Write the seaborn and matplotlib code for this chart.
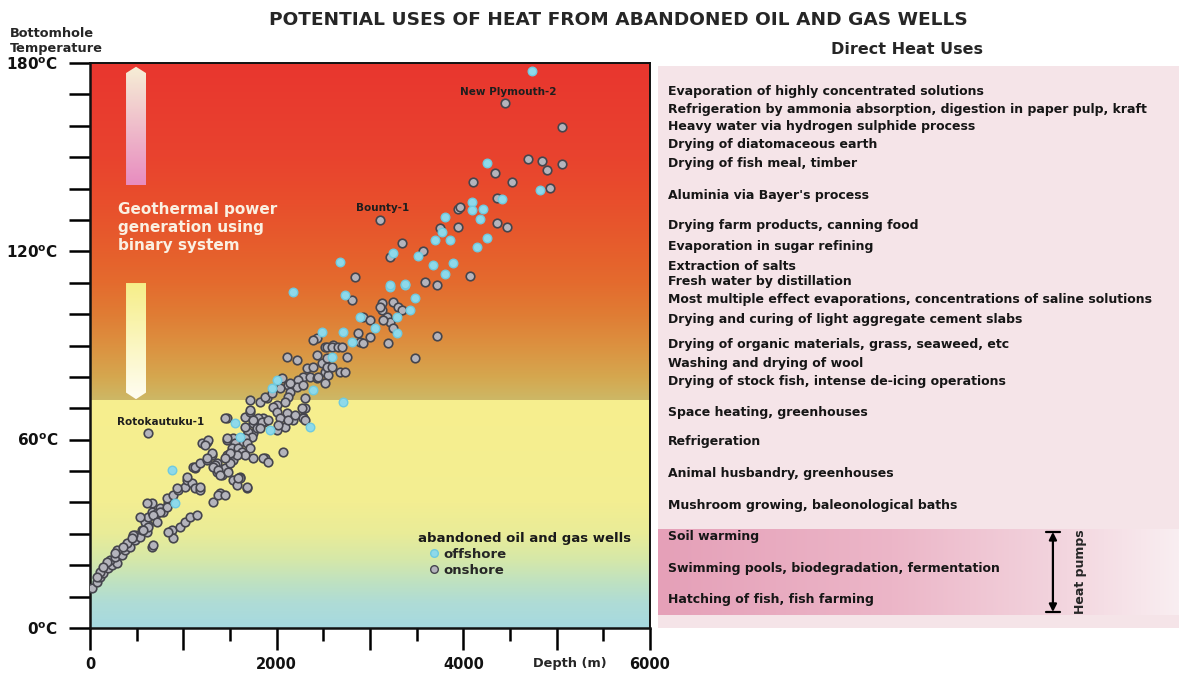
import numpy as np
import pandas as pd
import matplotlib
matplotlib.use("Agg")
import matplotlib.pyplot as plt
import seaborn as sns
from matplotlib.colors import to_rgb
from matplotlib.patches import Polygon, Rectangle
from matplotlib.lines import Line2D

# ---------------- data ----------------
onshore_depth = [
    21, 75, 107, 139, 193, 236, 289, 214, 268, 343, 375, 429, 482, 482, 536, 557, 611, 621, 589, 621,
    664, 718, 750, 782, 664, 836, 825, 889, 943, 1018, 1039, 1093, 1125, 1179, 664, 675, 879, 889, 964, 1018,
    1071, 1146, 611, 536, 621, 461, 396, 289, 107, 836, 932, 1039, 1125, 1179, 1393, 1532, 1468, 1607, 1361, 1532,
    1746, 1875, 2068, 1468, 1532, 1682, 1746, 1254, 1200, 1104, 825, 750, 675, 718, 568, 450, 354, 268, 182, 139,
    75, 620,
    1125, 1179, 1254, 1307, 1339, 1361, 1414, 1446, 1500, 1468, 1521, 1575, 1629, 1607, 1575, 1682, 1318, 1371, 1446,
    1468, 1661, 1714, 1746, 1854, 1789, 1864, 2004, 2089, 2175, 2282, 2304, 2111, 1714, 1821, 1896, 2004, 1854,
    2432, 2518, 2604, 2111, 2218, 2432, 2486, 2539, 2325, 2389, 2282, 2357, 2432, 2518, 2229, 2121, 2057, 2036, 2143, 2218,
    2282, 2121, 2089, 2304, 1875, 1961, 2004, 1714, 1800, 1746, 1843, 1907, 2036, 2121, 2196, 2271, 2282, 2014, 1821, 1693,
    1661, 1736, 1661, 1607, 1682, 1554, 1521, 1468, 1586, 1629, 1714, 1661, 1575, 1500, 1446, 1264, 1232, 1307, 1254, 1318,
    1371, 1393, 1479, 1586, 1682, 1446, 1907, 2304,
    3343, 3214, 2839, 2807, 3129, 3246, 3129, 3300, 3343, 3182, 3214, 3139, 3246, 2925, 3000, 2871, 2893, 3000, 2925, 3193,
    3482, 2389, 2539, 2593, 2657, 2700, 2754, 2679, 2732, 2550, 2539, 2593, 2443, 2518, 2143, 1950, 3107, 3718,
    3107, 4104, 4339, 4361, 3943, 3943, 3750, 4361, 4468, 3568, 4071, 3589, 3718, 4446, 5057, 4693, 4843, 4896, 5057, 4521,
    4928, 3964,
]
onshore_temp = [
    12.7, 14.7, 16.2, 17.5, 19.1, 20.1, 20.7, 21.7, 22.6, 23.3, 24.8, 25.8, 28.0, 29.6, 29.0, 31.2, 30.6, 32.8, 33.8, 35.4,
    37.0, 36.6, 38.2, 37.0, 39.8, 39.8, 41.4, 42.4, 44.0, 44.9, 47.1, 46.2, 44.6, 44.0, 25.8, 26.4, 31.2, 28.7, 32.2, 33.8,
    35.4, 36.0, 39.8, 35.4, 32.2, 29.6, 27.1, 24.8, 17.8, 30.6, 44.6, 48.1, 51.0, 44.9, 43.0, 47.1, 50.3, 48.1, 52.6, 53.5,
    54.2, 54.2, 56.1, 59.9, 60.5, 61.5, 62.1, 59.3, 58.9, 51.3, 38.5, 37.0, 36.0, 33.8, 31.2, 28.7, 25.8, 23.9, 21.0, 19.4,
    16.2, 62.1,
    51.3, 52.6, 53.5, 55.1, 51.9, 49.7, 48.7, 51.0, 52.6, 55.1, 55.8, 57.3, 55.8, 47.8, 45.6, 44.6, 40.1, 42.4, 42.4,
    66.9, 67.2, 68.8, 65.3, 66.9, 63.7, 65.6, 63.1, 64.0, 66.3, 67.2, 70.1, 68.5, 72.6, 72.0, 73.3, 71.0, 54.2,
    92.4, 89.5, 90.2, 86.3, 85.4, 87.0, 84.4, 86.0, 82.8, 83.1, 80.0, 80.0, 79.6, 81.6, 79.0, 77.4, 79.6, 76.5, 75.2, 76.8,
    77.4, 73.6, 72.0, 73.3, 73.6, 70.4, 68.8, 69.4, 66.9, 66.3, 65.6, 66.3, 66.9, 66.3, 67.9, 70.1, 66.9, 64.7, 63.7, 62.4,
    64.0, 60.8, 60.5, 59.3, 58.9, 58.9, 57.3, 60.5, 57.3, 56.1, 57.3, 55.1, 55.1, 55.8, 54.2, 59.9, 58.3, 55.8, 54.2, 51.3,
    50.3, 48.7, 49.7, 47.8, 44.9, 66.9, 52.9, 66.3,
    122.7, 118.2, 111.8, 104.5, 103.5, 103.9, 101.3, 102.3, 101.3, 99.1, 97.5, 98.1, 95.6, 99.1, 98.1, 94.0, 91.1, 92.7, 90.8, 90.8,
    86.0, 91.7, 89.5, 89.5, 89.5, 89.5, 86.3, 81.6, 81.6, 80.6, 83.1, 83.1, 80.0, 78.1, 78.1, 74.9, 102.3, 93.0,
    130.0, 142.1, 145.0, 137.0, 133.5, 127.7, 127.4, 129.0, 127.7, 120.1, 112.1, 110.2, 109.3, 167.3, 159.6, 149.4, 148.8, 145.9, 147.8, 142.1,
    140.2, 134.1,
]
offshore_depth = [
    880, 911, 1554, 1607, 1929, 2357, 1950, 2004, 2389, 2593, 2486, 2679, 2175, 2732, 3214, 3375, 3482, 3428, 3289, 3289,
    3054, 2711, 2807, 2893, 4254, 4093, 4093, 4211, 4414, 4179, 3804, 3771, 3857, 3696, 4254, 4146, 3889, 3675, 3804, 3514,
    3246, 3214, 3375, 4736, 4821, 2711,
]
offshore_temp = [
    50.3, 39.8, 65.3, 60.8, 63.1, 64.0, 76.5, 79.0, 75.8, 86.3, 94.3, 116.6, 107.0, 106.1, 108.6, 109.3, 105.1, 101.3, 99.1, 94.0,
    95.6, 94.3, 91.1, 99.1, 148.1, 135.7, 133.2, 133.5, 136.7, 130.3, 130.9, 126.2, 123.6, 123.6, 124.2, 121.4, 116.3, 115.6, 112.8, 118.5,
    119.5, 109.3, 109.6, 177.4, 139.5, 72.0,
]

well_names = ["New Plymouth-2", "Bounty-1", "Rotokautuku-1"]
well_label_depth = [4480, 3140, 760]
well_label_temp = [170.8, 133.8, 65.6]

direct_uses = [
    "Evaporation of highly concentrated solutions",
    "Refrigeration by ammonia absorption, digestion in paper pulp, kraft",
    "Heavy water via hydrogen sulphide process",
    "Drying of diatomaceous earth",
    "Drying of fish meal, timber",
    "Aluminia via Bayer's process",
    "Drying farm products, canning food",
    "Evaporation in sugar refining",
    "Extraction of salts",
    "Fresh water by distillation",
    "Most multiple effect evaporations, concentrations of saline solutions",
    "Drying and curing of light aggregate cement slabs",
    "Drying of organic materials, grass, seaweed, etc",
    "Washing and drying of wool",
    "Drying of stock fish, intense de-icing operations",
    "Space heating, greenhouses",
    "Refrigeration",
    "Animal husbandry, greenhouses",
    "Mushroom growing, baleonological baths",
    "Soil warming",
    "Swimming pools, biodegradation, fermentation",
    "Hatching of fish, fish farming",
]
use_temps = [170.8, 165.0, 159.6, 153.9, 147.8, 137.9, 128.1, 121.4, 115.0, 110.5, 104.5, 98.1,
             90.2, 84.4, 78.4, 68.5, 59.3, 49.1, 38.9, 29.3, 19.1, 9.2]
heat_pump_range = [4.1, 31.2]
power_limit = 72.6

x_ticks = [0, 1000, 2000, 3000, 4000, 5000, 6000]
x_ticklabels = ["0", "", "2000", "", "4000", "", "6000"]
y_ticks = list(range(0, 181, 10))
y_labelled = {0: "0", 60: "60", 120: "120", 180: "180"}

# ---------------- style ----------------
sns.set_theme(style="white")
plt.rcParams["font.family"] = ["DejaVu Sans"]
plt.rcParams["font.weight"] = "bold"
plt.rcParams["mathtext.default"] = "bf"

W, H = 1179, 675
fig = plt.figure(figsize=(W / 100, H / 100), dpi=100)
ax = fig.add_axes([90 / W, 1 - 628 / H, 560 / W, 565 / H])
axr = fig.add_axes([658 / W, 1 - 628 / H, 521 / W, 562 / H])


def grad_colors(stops, t):
    pos = [s[0] for s in stops]
    cols = np.array([to_rgb(s[1]) for s in stops])
    return np.stack([np.interp(t, pos, cols[:, i]) for i in range(3)], axis=-1)


# background gradient of the main panel
upper_stops = [(power_limit, "#CDB866"), (80, "#D5A74F"), (90, "#DC9140"), (100, "#E07C34"),
               (110, "#E46B2E"), (120, "#E65F2C"), (135, "#E84F2C"), (150, "#E8432E"), (180, "#E8362F")]
lower_stops = [(0, "#A6D9E0"), (8, "#AFDCD6"), (15, "#C0E2C0"), (22, "#D6E8A8"), (30, "#E9EC98"),
               (40, "#F3EE92"), (power_limit, "#F7EF8E")]
tt = np.linspace(0, 180, 1441)
bg = np.where((tt < power_limit)[:, None], grad_colors(lower_stops, tt), grad_colors(upper_stops, tt))
ax.imshow(bg[:, None, :], extent=[0, 6000, 0, 180], origin="lower", aspect="auto",
          interpolation="nearest", zorder=0)


def gradient_arrow(poly_pts, c_top, c_bot, y0, y1, x0, x1):
    poly = Polygon(poly_pts, closed=True, facecolor="none", edgecolor="none")
    ax.add_patch(poly)
    g = grad_colors([(0, c_bot), (1, c_top)], np.linspace(0, 1, 200))
    im = ax.imshow(g[:, None, :], extent=[x0, x1, y0, y1], origin="lower", aspect="auto", zorder=1)
    im.set_clip_path(poly)


gradient_arrow([(386, 141.1), (600, 141.1), (600, 176.8), (493, 178.8), (386, 176.8)],
               "#F6EFD6", "#E88CC0", 141.1, 178.8, 386, 600)
gradient_arrow([(386, 109.9), (600, 109.9), (600, 75.0), (493, 72.9), (386, 75.0)],
               "#F6EE88", "#FFFDF2", 72.9, 109.9, 386, 600)

ax.text(300, 135.6, "Geothermal power\ngeneration using\nbinary system", color="#FAF0E2",
        fontsize=11, fontweight="bold", va="top", ha="left", linespacing=1.22, zorder=2)

# scatter points
df_on = pd.DataFrame({"depth": onshore_depth, "temp": onshore_temp})
df_off = pd.DataFrame({"depth": offshore_depth, "temp": offshore_temp})
sns.scatterplot(data=df_on, x="depth", y="temp", ax=ax, s=38, color="#B4B4BC",
                edgecolor="#45454D", linewidth=1.2, zorder=3, legend=False)
sns.scatterplot(data=df_off, x="depth", y="temp", ax=ax, s=38, color="#8ED9EA",
                edgecolor="#6FCAE0", linewidth=1.0, zorder=3, legend=False)

for name, d, t in zip(well_names, well_label_depth, well_label_temp):
    ax.text(d, t, name, fontsize=7.5, fontweight="bold", color="#1E1E1E", ha="center", va="center", zorder=4)

# legend
ax.text(0.586, 0.159, "abandoned oil and gas wells", transform=ax.transAxes, fontsize=9.5,
        fontweight="bold", color="#1A1A1A", va="center", ha="left")
handles = [
    Line2D([], [], marker="o", ls="", markersize=5.5, markerfacecolor="#8ED9EA",
           markeredgecolor="#6FCAE0", label="offshore"),
    Line2D([], [], marker="o", ls="", markersize=5.5, markerfacecolor="#B4B4BC",
           markeredgecolor="#45454D", label="onshore"),
]
ax.legend(handles=handles, loc="upper left", bbox_to_anchor=(0.606, 0.142), frameon=False,
          prop={"weight": "bold", "size": 9.5}, handlelength=0.7, handletextpad=0.35,
          labelspacing=0.25, borderpad=0, borderaxespad=0)

# axes formatting
ax.set_xlim(0, 6000)
ax.set_ylim(0, 180)
ax.set_xlabel("")
ax.set_ylabel("")
ax.set_xticks(x_ticks)
ax.set_xticklabels(x_ticklabels)
ax.set_xticks(np.arange(500, 6000, 1000), minor=True)
ax.set_yticks(y_ticks)
ax.set_yticklabels([(r"%s$^{\mathbf{o}}$C" % y_labelled[v]) if v in y_labelled else "" for v in y_ticks])
ax.tick_params(axis="x", which="major", length=16, width=1.8, direction="out", pad=5,
               labelsize=10.5, color="black", bottom=True)
ax.tick_params(axis="x", which="minor", length=9, width=1.8, direction="out", color="black", bottom=True)
ax.tick_params(axis="y", which="major", length=15, width=1.8, direction="out", pad=8,
               labelsize=11, color="black", left=True)
for lab in ax.get_xticklabels() + ax.get_yticklabels():
    lab.set_fontweight("bold")
    lab.set_color("#111111")
for side, sp in ax.spines.items():
    sp.set_visible(True)
    sp.set_color("#111111")
    sp.set_linewidth(1.8 if side in ("left", "bottom") else 1.4)

fig.text(570 / W, 1 - 663 / H, "Depth (m)", fontsize=9.3, fontweight="bold", ha="center", va="center")
fig.text(10 / W, 1 - 41 / H, "Bottomhole\nTemperature", fontsize=9.3, fontweight="bold",
         ha="left", va="center", linespacing=1.15)
fig.text(618 / W, 1 - 20 / H, "POTENTIAL USES OF HEAT FROM ABANDONED OIL AND GAS WELLS",
         fontsize=13.3, fontweight="bold", ha="center", va="center")
fig.text(907 / W, 1 - 50 / H, "Direct Heat Uses", fontsize=11.5, fontweight="bold",
         ha="center", va="center")

# right panel
axr.set_xlim(0, 1)
axr.set_ylim(0, 179)
axr.axis("off")
axr.add_patch(Rectangle((0, 0), 1, 179, facecolor="#F5E4E8", edgecolor="none", zorder=0))
band = grad_colors([(0, "#E5A0B8"), (0.45, "#ECB6C8"), (0.75, "#F2D2DC"), (1, "#F9EEF1")],
                   np.linspace(0, 1, 300))
axr.imshow(band[None, :, :], extent=[0, 1, heat_pump_range[0], heat_pump_range[1]],
           aspect="auto", zorder=1)
axr.set_xlim(0, 1)
axr.set_ylim(0, 179)
for lab, t in zip(direct_uses, use_temps):
    axr.text(0.019, t, lab, fontsize=9, fontweight="bold", color="#161616", ha="left", va="center", zorder=2)

ax_x = 0.758
lo, hi = heat_pump_range[0] + 1.0, heat_pump_range[1] - 0.6
axr.annotate("", xy=(ax_x, lo), xytext=(ax_x, hi),
             arrowprops=dict(arrowstyle="<|-|>", color="black", lw=1.6, mutation_scale=11,
                             shrinkA=0, shrinkB=0), zorder=3)
axr.plot([ax_x - 0.013, ax_x + 0.013], [hi, hi], color="black", lw=1.6, zorder=3)
axr.plot([ax_x - 0.013, ax_x + 0.013], [lo, lo], color="black", lw=1.6, zorder=3)
axr.text(0.81, (lo + hi) / 2, "Heat pumps", rotation=90, fontsize=9, fontweight="bold",
         ha="center", va="center", zorder=3)

fig.savefig("out.png", dpi=100)
